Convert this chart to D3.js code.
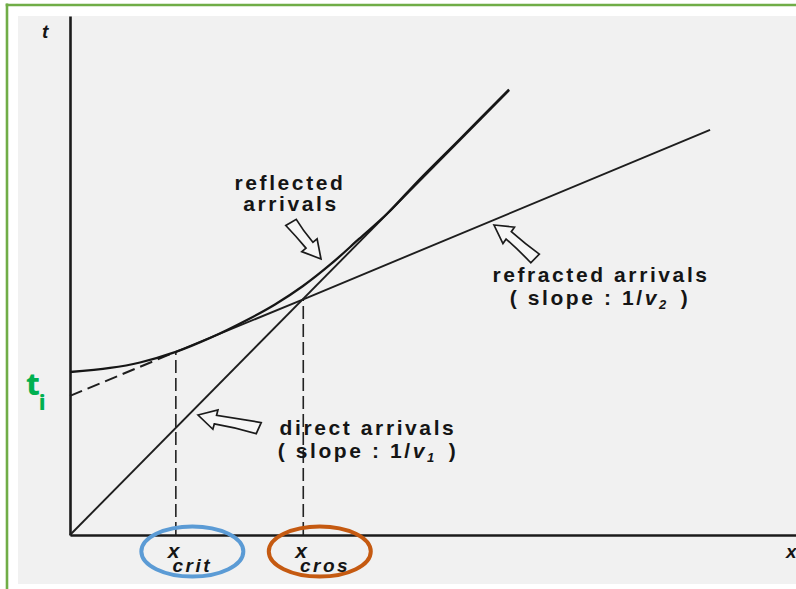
<!DOCTYPE html>
<html>
<head>
<meta charset="utf-8">
<script src="https://cdn.jsdelivr.net/npm/d3@7"></script>
<style>
  html, body { margin: 0; padding: 0; background: #ffffff; }
  svg { display: block; }
  .lbl { font-family: "Liberation Sans", Arial, sans-serif; font-weight: bold; fill: #151515; }
</style>
</head>
<body>
<svg id="chart" width="796" height="589"></svg>
<script>
// Travel-time curves for a two-layer case (distance x, time t)
const xCrit = 1.47;          // critical distance
const xCros = 3.24;          // crossover distance

// direct wave: straight line through the origin (slope 1/v1)
const directX = [0, 6.10];
const directT = [0, 6.17];

// reflected wave: hyperbola starting at the two-way vertical time
const reflX = [0, 0.556, 0.972, 1.47, 1.944, 2.458, 2.847, 3.236, 3.625, 4.014, 4.403, 4.861, 5.417, 6.097];
const reflT = [2.261, 2.317, 2.393, 2.54, 2.733, 2.983, 3.198, 3.454, 3.760, 4.107, 4.456, 4.939, 5.494, 6.181];

// refracted (head) wave: line of slope 1/v2 with intercept time ti
const refrX = [0, 1.47, 3.24, 8.89];
const refrT = [1.93, 2.54, 3.27, 5.62];

// distance markers drawn under the axis
const markerValues = [xCrit, xCros];
const markerSubs = ["crit", "cros"];
const markerRing = ["#5b9bd5", "#c55a11"];

const svg = d3.select("#chart");
const W = 796, H = 589;

// page frame
svg.append("rect").attr("x", 0).attr("y", 0).attr("width", W).attr("height", H).attr("fill", "#ffffff");
svg.append("rect").attr("x", 18).attr("y", 16).attr("width", W - 18).attr("height", 568).attr("fill", "#f1f1f1");
svg.append("line").attr("x1", 7).attr("x2", 7).attr("y1", 3.5).attr("y2", H)
  .attr("stroke", "#70ad47").attr("stroke-width", 2.6);
svg.append("line").attr("x1", 5.7).attr("x2", W).attr("y1", 5).attr("y2", 5)
  .attr("stroke", "#70ad47").attr("stroke-width", 2.6);

// scales
const x = d3.scaleLinear().domain([0, 10]).range([70, 790]);
const t = d3.scaleLinear().domain([0, 7.2]).range([535, 16]);

// axes (no ticks)
const xAxisScale = x.copy().domain([0, 10.1]).range([70, 797]);
svg.append("g").attr("transform", `translate(0,${t(0)})`)
  .call(d3.axisBottom(xAxisScale).tickValues([]).tickSizeOuter(0))
  .select(".domain").attr("stroke", "#1b1b1b").attr("stroke-width", 2.6);
svg.append("g").attr("transform", `translate(${x(0)},0)`)
  .call(d3.axisLeft(t).tickValues([]).tickSizeOuter(0))
  .select(".domain").attr("stroke", "#1b1b1b").attr("stroke-width", 2.6);

// axis letters
svg.append("text").attr("class", "lbl").attr("x", 42).attr("y", 38)
  .attr("font-size", 19).attr("font-style", "italic").text("t");
svg.append("text").attr("class", "lbl").attr("x", 786).attr("y", 558)
  .attr("font-size", 19).attr("font-style", "italic").text("x");

const line = d3.line().x(d => x(d[0])).y(d => t(d[1]));
const curve = d3.line().x(d => x(d[0])).y(d => t(d[1])).curve(d3.curveCatmullRom.alpha(0.5));

// dashed verticals at the critical and crossover distances
const reflAtCrit = reflT[reflX.indexOf(xCrit)];
const directAtCros = directT[1] / directX[1] * xCros;
[[xCrit, reflAtCrit], [xCros, directAtCros]].forEach(([xv, tv]) => {
  svg.append("path").attr("d", line([[xv, 0], [xv, tv]]))
    .attr("fill", "none").attr("stroke", "#222").attr("stroke-width", 1.6)
    .attr("stroke-dasharray", "13,5");
});

// refracted arrivals: dashed back-extension to the intercept, solid beyond xCrit
const refrPts = refrX.map((v, i) => [v, refrT[i]]);
svg.append("path").attr("d", line(refrPts.slice(0, 2)))
  .attr("fill", "none").attr("stroke", "#1e1e1e").attr("stroke-width", 2)
  .attr("stroke-dasharray", "13,6");
svg.append("path").attr("d", line(refrPts.slice(1)))
  .attr("fill", "none").attr("stroke", "#1e1e1e").attr("stroke-width", 1.9);

// direct arrivals
svg.append("path").attr("d", line(directX.map((v, i) => [v, directT[i]])))
  .attr("fill", "none").attr("stroke", "#1e1e1e").attr("stroke-width", 1.9);

// reflected arrivals
svg.append("path").attr("d", curve(reflX.map((v, i) => [v, reflT[i]])))
  .attr("fill", "none").attr("stroke", "#161616").attr("stroke-width", 2.3);

// hollow block arrows pointing at the curves
function blockArrow(tip, tail, bend) {
  const dx = tail[0] - tip[0], dy = tail[1] - tip[1];
  const L = Math.hypot(dx, dy);
  const ang = Math.atan2(dy, dx) * 180 / Math.PI;
  const h = 18, hw = 10, sw = 4.5, b = bend || 0;
  const d = `M0,0L${h},${-hw}L${h},${-sw}Q${(h + L) / 2},${-sw + b} ${L},${-sw - 1 + b * 1.6}` +
            `L${L - 2},${sw + 2 + b * 1.6}Q${(h + L) / 2},${sw + b} ${h},${sw}L${h},${hw}Z`;
  svg.append("path").attr("d", d)
    .attr("transform", `translate(${tip[0]},${tip[1]}) rotate(${ang})`)
    .attr("fill", "#f6f6f6").attr("stroke", "#1b1b1b").attr("stroke-width", 1.7)
    .attr("stroke-linejoin", "miter");
}
blockArrow([321, 259], [290, 222], 0);
blockArrow([494, 225], [538, 256], 2);
blockArrow([198, 415], [259, 431], -2);

// curve labels
function label(cx, y, str) {
  return svg.append("text").attr("class", "lbl").attr("x", cx).attr("y", y)
    .attr("font-size", 21).attr("letter-spacing", 2.6).attr("text-anchor", "middle").text(str);
}
label(290, 190, "reflected");
label(291, 211, "arrivals");
label(601, 282, "refracted arrivals");
label(368, 435, "direct arrivals");

function slopeLabel(cx, y, sub) {
  const tx = svg.append("text").attr("class", "lbl").attr("x", cx).attr("y", y)
    .attr("font-size", 21).attr("letter-spacing", 2.6).attr("text-anchor", "middle");
  tx.append("tspan").text("( slope : 1/");
  tx.append("tspan").attr("font-style", "italic").text("v");
  tx.append("tspan").attr("font-style", "italic").attr("font-size", 13)
    .attr("dy", 4).attr("letter-spacing", 0).text(sub);
  tx.append("tspan").attr("dy", -4).attr("dx", 6).text(" )");
}
slopeLabel(600, 305, "2");
slopeLabel(368, 458, "1");

// intercept time label
const ti = svg.append("text").attr("x", 26).attr("y", 395)
  .attr("font-family", "'Noto Sans', sans-serif").attr("font-weight", 800)
  .attr("fill", "#00b050").attr("font-size", 31);
ti.append("tspan").text("t");
ti.append("tspan").attr("font-size", 22).attr("dy", 15).attr("dx", -1).text("i");

// distance markers with rings
markerValues.forEach((v, i) => {
  const px = x(v);
  svg.append("ellipse").attr("cx", px + 16.5).attr("cy", 551.5).attr("rx", 51).attr("ry", 25)
    .attr("fill", "none").attr("stroke", markerRing[i]).attr("stroke-width", 4);
  const tx = svg.append("text").attr("class", "lbl").attr("x", px - 8).attr("y", 558)
    .attr("font-style", "italic");
  tx.append("tspan").attr("font-size", 21).text("x");
  tx.append("tspan").attr("font-size", 19).attr("letter-spacing", 2.5)
    .attr("dx", -7).attr("dy", 14).text(markerSubs[i]);
});
</script>
</body>
</html>
